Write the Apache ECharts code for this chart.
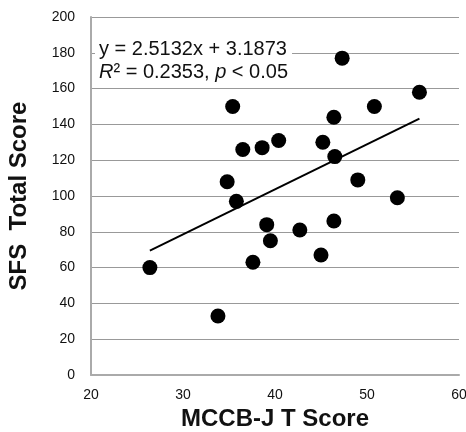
<!DOCTYPE html>
<html>
<head>
<meta charset="utf-8">
<script src="https://cdn.jsdelivr.net/npm/echarts@6/dist/echarts.min.js"></script>
<style>
  html, body { margin: 0; padding: 0; background: #fff; }
  #chart { width: 466px; height: 432px; }
</style>
</head>
<body>
<div id="chart"></div>
<script>
// MCCB-J T score (x) vs SFS total score (y)
var mccbScores = [26.4, 33.8, 37.6, 39.1, 39.5, 42.7, 45.0, 46.4, 35.4, 47.3, 55.7, 50.8, 46.4, 36.5, 38.6, 40.4, 45.2, 46.5, 34.8, 49.0, 35.8, 53.3];
var sfsScores = [60, 33, 63, 84, 75, 81, 67, 86, 150, 177, 158, 150, 144, 126, 127, 131, 130, 122, 108, 109, 97, 99];
var slope = 2.5132;
var intercept = 3.1873;
var xTicks = [20, 30, 40, 50, 60];
var yTicks = [0, 20, 40, 60, 80, 100, 120, 140, 160, 180, 200];

window.onload = function() {
	var chart = echarts.init(document.getElementById('chart'));

	var points = mccbScores.map(function(x, i) { return [x, sfsScores[i]]; });
	var xMin = Math.min.apply(null, mccbScores);
	var xMax = Math.max.apply(null, mccbScores);
	/* 回归线 */
	var fitLine = [[xMin, slope * xMin + intercept], [xMax, slope * xMax + intercept]];

	var option = {
		animation: false,
		backgroundColor: '#fff',
		textStyle: { fontFamily: 'Liberation Sans, Arial, sans-serif' },
		title: {
			left: 95,
			top: 38,
			padding: [0, 4, 0, 4],
			backgroundColor: '#fff',
			text: 'y = 2.5132x + 3.1873\n{i|R}² = 0.2353, {i|p} < 0.05',
			textStyle: {
				fontSize: 20,
				fontWeight: 'normal',
				color: '#111',
				lineHeight: 23,
				rich: {
					i: { fontSize: 20, fontStyle: 'italic', color: '#111', lineHeight: 23 }
				}
			}
		},
		grid: {
			left: 91,
			right: 7,
			top: 17,
			bottom: 57,
			outerBoundsMode: 'none'
		},
		xAxis: {
			type: 'value',
			min: xTicks[0],
			max: xTicks[xTicks.length - 1],
			interval: 10,
			name: 'MCCB-J T Score',
			nameLocation: 'middle',
			nameGap: 31,
			nameTextStyle: { fontSize: 24, fontWeight: 'bold', color: '#111' },
			axisLine: { show: true, lineStyle: { color: '#aaa', width: 2 } },
			axisTick: { show: false },
			axisLabel: { fontSize: 14, color: '#111', margin: 13 },
			splitLine: { show: false }
		},
		yAxis: {
			type: 'value',
			min: yTicks[0],
			max: yTicks[yTicks.length - 1],
			interval: 20,
			name: 'SFS  Total Score',
			nameLocation: 'middle',
			nameGap: 60,
			nameTextStyle: { fontSize: 24, fontWeight: 'bold', color: '#111' },
			axisLine: { show: true, lineStyle: { color: '#aaa', width: 2 } },
			axisTick: { show: false },
			axisLabel: { fontSize: 14, color: '#111', margin: 16 },
			splitLine: { show: true, lineStyle: { color: '#999', width: 1 } }
		},
		series: [{
				name: 'fit',
				type: 'line',
				data: fitLine,
				symbol: 'none',
				lineStyle: { color: '#000', width: 2 },
				z: 2
			},
			{
				name: 'subjects',
				type: 'scatter',
				data: points,
				symbolSize: 15,
				itemStyle: { color: '#000', opacity: 1 },
				z: 3
			}
		]
	};
	chart.setOption(option);
};
</script>
</body>
</html>
